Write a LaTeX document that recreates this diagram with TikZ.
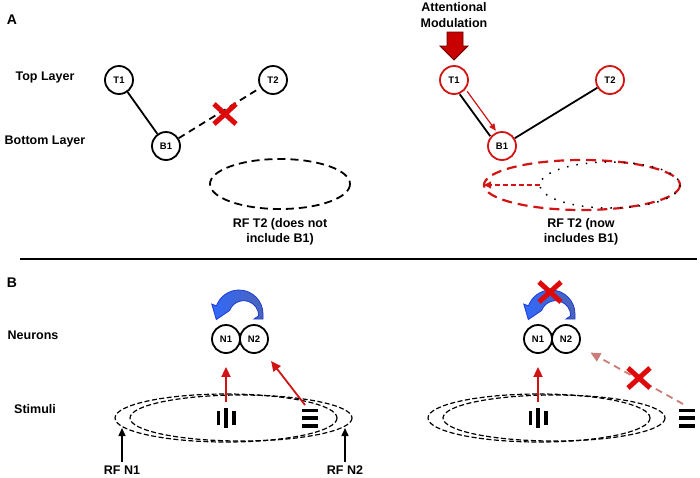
\documentclass[tikz,border=0pt]{standalone}
\usepackage{fontspec}
\setmainfont{Liberation Sans}
\usetikzlibrary{arrows.meta,calc}
\definecolor{redc}{RGB}{210,20,20}
\definecolor{xred}{RGB}{222,10,10}
\definecolor{blockred}{RGB}{200,0,0}
\definecolor{palered}{RGB}{205,125,120}
\definecolor{blueL}{RGB}{50,105,250}
\definecolor{blueD}{RGB}{75,100,185}
\definecolor{blueE}{RGB}{30,60,210}
\begin{document}
\begin{tikzpicture}[x=1pt,y=-1pt,
  lbl/.style={font=\bfseries\fontsize{12.5}{15.5}\selectfont, align=center},
  panel/.style={font=\bfseries\fontsize{14}{16}\selectfont},
  neuron/.style={circle, draw, line width=1.8pt, minimum size=28pt, inner sep=0pt,
                 font=\bfseries\fontsize{9.5}{11}\selectfont},
  rneuron/.style={neuron, draw=redc},
  conn/.style={line width=1.8pt},
  redarrow/.style={draw=redc, line width=1.8pt, -{Triangle[length=10pt,width=9pt]}},
  bdash/.style={line width=1.2pt, dash pattern=on 5pt off 2.5pt},
  rfarrow/.style={line width=1.5pt, -{Triangle[length=8pt,width=7pt]}},
  xmark/.pic={\draw[xred, line width=5pt] (-11,-10) -- (11,10) (-11,10) -- (11,-10);},
  vbars/.pic={\fill (-9.5,-7) rectangle (-6,7); \fill (-1.75,-10) rectangle (1.75,10); \fill (6,-7) rectangle (9.5,7);},
  hbars/.pic={\fill (-8,-9.5) rectangle (8,-6); \fill (-8,-1.75) rectangle (8,1.75); \fill (-8,6) rectangle (8,9.5);},
  loopback/.pic={\path[left color=blueL, right color=blueD, draw=blueE, line width=0.8pt]
      (15,5) -- (24,5) -- (24,0) arc[start angle=0, end angle=-160, radius=24]
      -- (-160:29) -- (-22.7,5.5) -- (-160:10)
      arc[start angle=-160, end angle=0, radius=15] -- cycle;}
]
\useasboundingbox (0,0) rectangle (700,477);

% ---------------- Panel A ----------------
\node[panel] (pA) at (12,20) {A};
\node[lbl] (toplbl) at (45,77) {Top Layer};
\node[lbl] (botlbl) at (45,141) {Bottom Layer};

\node[neuron] (T1) at (119,80) {T1};
\node[neuron] (T2) at (273,80) {T2};
\node[neuron] (B1) at (166,146) {B1};
\draw[conn] (T1) -- (B1);
\draw[conn, dash pattern=on 7pt off 5pt] (B1) -- (T2);
\pic at (225,114) {xmark};
\draw[line width=1.8pt, dash pattern=on 8pt off 5pt] (280,184) ellipse [x radius=70, y radius=25];
\node[lbl] (rfa) at (280,232) {RF T2 (does not\\include B1)};

\node[lbl] (attn) at (454,15) {Attentional\\Modulation};
\draw[fill=blockred, draw=black!60!red, line width=0.8pt]
  (447,32) -- (463,32) -- (463,46) -- (468,46) -- (454,60) -- (440,46) -- (447,46) -- cycle;
\node[rneuron] (rT1) at (454,80) {T1};
\node[rneuron] (rT2) at (610,80) {T2};
\node[rneuron] (rB1) at (502,146) {B1};
\draw[conn, transform canvas={shift={(-3pt,-2.2pt)}}] (rT1) -- (rB1);
\draw[redc, line width=1.2pt, -{Triangle[length=7pt,width=6pt]}, shorten <=2pt, shorten >=1pt,
      transform canvas={shift={(3.2pt,2.4pt)}}] (rT1) -- (rB1);
\draw[conn] (rB1) -- (rT2);
\draw[redc, line width=2.2pt, dash pattern=on 10pt off 6pt] (582,185) ellipse [x radius=98, y radius=25];
\draw[line width=1.5pt, dash pattern=on 1.5pt off 8pt] (610,185) ellipse [x radius=70, y radius=23];
\coordinate (dl) at (540,185);
\coordinate (dr) at (484,185);
\draw[redc, line width=1.2pt, dash pattern=on 5pt off 3pt, -{Triangle[length=7pt,width=7pt]}] (dl) -- (dr);
\node[lbl] (rfb) at (581,232) {RF T2 (now\\includes B1)};

\draw[line width=1.4pt] (20,259) -- (697,259);

% ---------------- Panel B ----------------
\node[panel] (pB) at (12,283) {B};
\node[lbl] (neulbl) at (33,335) {Neurons};
\node[lbl] (stimlbl) at (35,409) {Stimuli};

% left
\node[neuron] (N1) at (226,339) {N1};
\node[neuron] (N2) at (254,339) {N2};
\pic at (239,314) {loopback};
\draw[bdash] (226,418) ellipse [x radius=111, y radius=24];
\draw[bdash] (241,418) ellipse [x radius=111, y radius=23];
\pic at (226,418) {vbars};
\pic at (310,418) {hbars};
\coordinate (vs) at (226,402);
\coordinate (hs) at (305,405);
\draw[redarrow, shorten >=13pt] (vs) -- (N1);
\draw[redarrow, shorten >=13pt] (hs) -- (N2);
\node[lbl] (rfn1) at (122,470) {RF N1};
\node[lbl] (rfn2) at (345,470) {RF N2};
\coordinate (rf1t) at (122,428);
\coordinate (rf2t) at (345,428);
\draw[rfarrow] (rfn1.north) -- (rf1t);
\draw[rfarrow] (rfn2.north) -- (rf2t);

% right
\node[neuron] (M1) at (538,339) {N1};
\node[neuron] (M2) at (566,339) {N2};
\pic at (551,314) {loopback};
\pic at (550,292) {xmark};
\draw[bdash] (539,418) ellipse [x radius=111, y radius=24];
\draw[bdash] (554,418) ellipse [x radius=111, y radius=23];
\pic at (538,418) {vbars};
\pic at (687,418) {hbars};
\coordinate (vs2) at (538,402);
\coordinate (hs2) at (683,404);
\draw[redarrow, shorten >=13pt] (vs2) -- (M1);
\draw[palered, line width=1.8pt, dash pattern=on 7pt off 5pt, -{Triangle[length=10pt,width=9pt]},
      shorten >=13pt] (hs2) -- (M2);
\pic at (639,378) {xmark};
\end{tikzpicture}
\end{document}
